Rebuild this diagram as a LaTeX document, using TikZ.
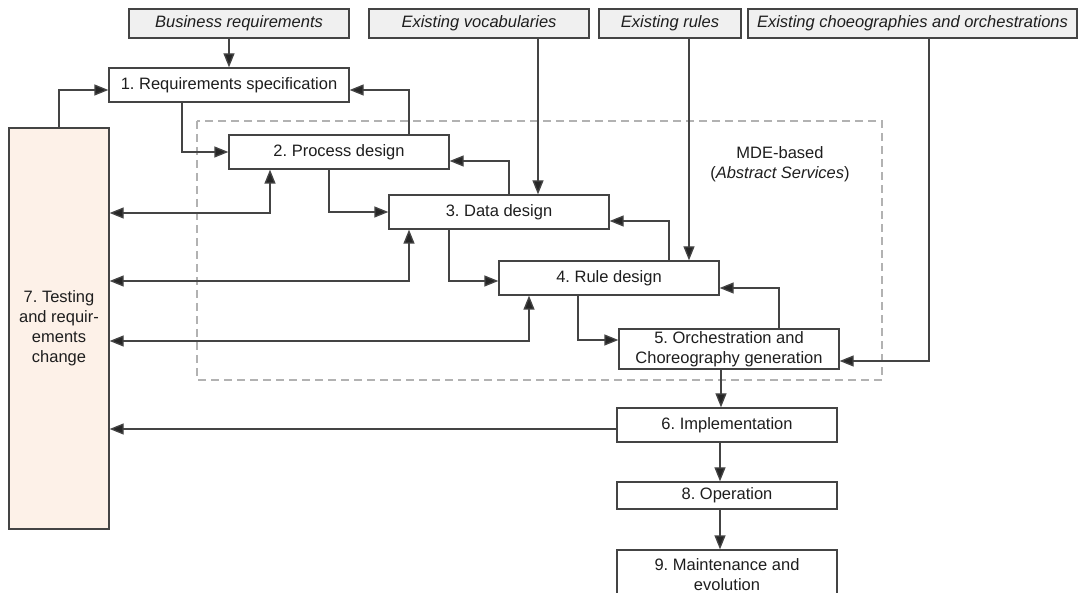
\documentclass[tikz,border=0pt]{standalone}
\usepackage{fontspec}
\setmainfont{Liberation Sans}
\usetikzlibrary{arrows.meta,calc}
\frenchspacing
\definecolor{linegray}{HTML}{444444}
\definecolor{inputfill}{HTML}{F0F0F0}
\definecolor{peach}{HTML}{FDF1E8}
\definecolor{textdark}{HTML}{1E1E1E}
\tikzset{
  every node/.style={font=\fontsize{16.5}{20}\selectfont, text=textdark},
  stepbox/.style={draw=linegray, line width=1.3pt, fill=white, minimum height=34pt, inner sep=0pt, align=center},
  inputbox/.style={draw=linegray, line width=1.3pt, fill=inputfill, minimum height=29pt, inner sep=0pt,
    font=\fontsize{16.5}{20}\selectfont\itshape},
  flow/.style={draw=linegray, line width=1.3pt, -{Triangle[length=14pt,width=11pt,fill=black!85]}},
  twoway/.style={draw=linegray, line width=1.3pt,
    {Triangle[length=14pt,width=11pt,fill=black!85]}-{Triangle[length=14pt,width=11pt,fill=black!85]}},
  region/.style={draw=gray!60, line width=1.2pt, dash pattern=on 8pt off 5pt},
}
\begin{document}
\begin{tikzpicture}[x=1pt, y=-1pt]
\useasboundingbox (0,0) rectangle (1082,593);

% MDE-based region
\draw[region] (197,121) rectangle (882,380);
\node[align=center] (mde) at (780,164) {MDE-based\\(\textit{Abstract Services})};

% external inputs
\node[inputbox, minimum width=220pt] (br) at (239,23.5) {Business requirements};
\node[inputbox, minimum width=220pt] (ev) at (479,23.5) {Existing vocabularies};
\node[inputbox, minimum width=142pt] (er) at (670,23.5) {Existing rules};
\node[inputbox, minimum width=329pt] (ec) at (912.5,23.5) {Existing choeographies and orchestrations};

% process steps
\node[stepbox, minimum width=240pt] (n1) at (229,85) {1. Requirements specification};
\node[stepbox, minimum width=220pt] (n2) at (339,152) {2. Process design};
\node[stepbox, minimum width=220pt] (n3) at (499,212) {3. Data design};
\node[stepbox, minimum width=220pt] (n4) at (609,278) {4. Rule design};
\node[stepbox, minimum width=220pt, minimum height=40pt] (n5) at (729,349) {5. Orchestration and\\Choreography generation};
\node[stepbox, minimum width=220pt] (n6) at (727,425) {6. Implementation};
\node[stepbox, minimum width=220pt, minimum height=27pt] (n8) at (727,495.5) {8. Operation};
\node[stepbox, minimum width=220pt, minimum height=50pt] (n9) at (727,575) {9. Maintenance and\\evolution};
\node[stepbox, fill=peach, minimum width=100pt, minimum height=401pt] (n7) at (59,328.5) {7. Testing\\and requir-\\ements\\change};

% inputs into steps
\draw[flow] (n1.north |- br.south) -- (n1.north);
\draw[flow] ([xshift=39]n3.north |- ev.south) -- ([xshift=39]n3.north);
\draw[flow] ([xshift=80]n4.north |- er.south) -- ([xshift=80]n4.north);
\draw[flow] ([xshift=16.5]ec.south) |- ([yshift=-12]n5.east);

% forward flow
\draw[flow] (n7.north) |- ([yshift=-5]n1.west);
\draw[flow] ([xshift=-47]n1.south) |- (n2.west);
\draw[flow] ([xshift=-10]n2.south) |- (n3.west);
\draw[flow] ([xshift=-50]n3.south) |- ([yshift=-3]n4.west);
\draw[flow] ([xshift=-31]n4.south) |- ([yshift=9]n5.west);
\draw[flow] ([xshift=-8]n5.south) -- ([xshift=-8]n5.south |- n6.north);
\draw[flow] ([xshift=-7]n6.south) -- ([xshift=-7]n6.south |- n8.north);
\draw[flow] ([xshift=-7]n8.south) -- ([xshift=-7]n8.south |- n9.north);

% feedback flow
\draw[flow] ([xshift=50]n5.north) |- ([yshift=-10]n4.east);
\draw[flow] ([xshift=70]n2.north) |- ([yshift=-5]n1.east);
\draw[flow] ([xshift=10]n3.north) |- ([yshift=-9]n2.east);
\draw[flow] ([xshift=60]n4.north) |- ([yshift=-9]n3.east);
\coordinate (impl) at ([yshift=-4]n6.west);
\draw[flow] (impl) -- (n7.east |- impl);

% testing loops
\draw[twoway] (n7.east |- 0,213) -| ([xshift=-69]n2.south);
\draw[twoway] (n7.east |- 0,281) -| ([xshift=-90]n3.south);
\draw[twoway] (n7.east |- 0,341) -| ([xshift=-80]n4.south);
\end{tikzpicture}
\end{document}
